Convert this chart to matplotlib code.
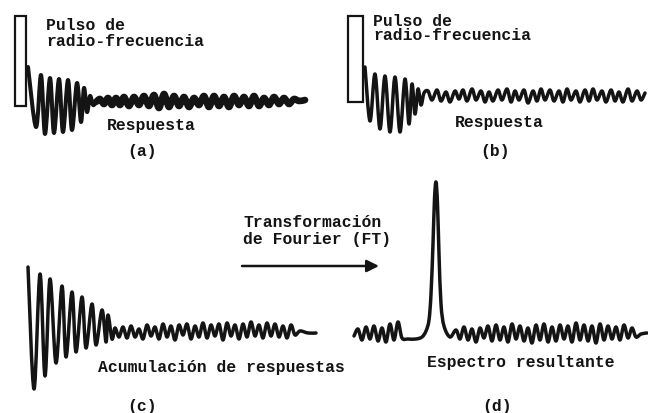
import numpy as np
import matplotlib
matplotlib.use('Agg')
import matplotlib.pyplot as plt
from matplotlib.patches import Rectangle, PathPatch
from matplotlib.path import Path
from matplotlib.transforms import Affine2D

# signal traces: time (px from panel origin), amplitude (px, up = +)
# (a) single response
a_ring_t = [8, 16, 21, 25, 30, 34, 39, 43, 48, 52, 57, 61, 64, 67, 70, 73]
a_ring_y = [35, -25, 27, -32, 24, -31, 23, -30, 22, -28, 19, -20, 14, -10, 6, -3]
a_noise_t = [76, 80, 84, 88, 92, 96, 100, 104, 109, 114, 119, 124, 129, 134, 139,
             144, 149, 154, 159, 164, 169, 174, 179, 184, 189, 194, 199, 204, 209,
             214, 219, 224, 229, 234, 239, 244, 249, 254, 259, 264, 269, 274, 279, 285]
a_noise_y = [0, 3, -2, 4, -3, 4, -3, 5, -4, 5, -3, 6, -4, 7, -6, 8, -5, 6, -4, 5,
             -5, 4, -3, 6, -5, 6, -4, 5, -5, 6, -3, 5, -4, 6, -4, 4, -3, 5, -2, 4,
             -2, 3, 1, 2]

# (b) another response
b_ring_t = [5, 10, 15, 20, 25, 30, 35, 40, 45, 49, 52, 55, 58, 61, 64]
b_ring_y = [29, -25, 22, -33, 20, -36, 19, -36, 17, -28, 12, -18, 7, -9, 3]
b_tail_t = [68, 72, 77, 81, 86, 90, 95, 99, 103, 107, 112, 116, 121, 125, 129, 133,
            138, 142, 147, 151, 155, 159, 164, 168, 173, 177, 181, 185, 190, 194,
            199, 203, 207, 211, 216, 220, 225, 229, 233, 237, 242, 246, 251, 255,
            259, 263, 268, 272, 277, 281, 285]
b_tail_y = [5, -4, 6, -5, 4, -6, 5, -3, 6, -5, 7, -4, 5, -6, 4, -5, 6, -4, 7, -6,
            5, -4, 6, -7, 5, -5, 7, -4, 6, -5, 5, -6, 7, -4, 5, -6, 6, -5, 7, -4,
            5, -6, 6, -5, 4, -6, 7, -5, 5, -4, 3]

# (c) accumulated responses
c_ring_t = [8, 14, 20, 25, 30, 36, 42, 46, 52, 56, 62, 66, 72, 76, 82, 86, 88, 92]
c_ring_y = [64, -58, 57, -45, 52, -32, 45, -26, 39, -21, 34, -17, 27, -14, 21, -11, 16, -8]
c_tail_t = [95, 99, 103, 107, 111, 115, 119, 123, 127, 131, 135, 139, 143, 147, 151,
            155, 159, 163, 167, 171, 175, 179, 183, 187, 191, 195, 199, 203, 207,
            211, 215, 219, 223, 227, 231, 235, 239, 243, 247, 251, 255, 259, 263,
            267, 271, 275, 280, 288, 296]
c_tail_y = [3, -6, 4, -7, 5, -6, 2, -8, 6, -5, 4, -8, 7, -6, 5, -9, 6, -4, 7, -8,
            5, -6, 8, -7, 6, -5, 7, -9, 8, -5, 6, -8, 7, -6, 9, -5, 6, -7, 8, -5,
            7, -6, 5, -7, 6, -4, 0, -2, -2]

# (d) resulting spectrum
d_left_t = [4, 8, 12, 16, 20, 24, 28, 32, 36, 40, 44, 48, 52, 58, 66, 72]
d_left_y = [-2, 5, -6, 7, -5, 8, -7, 6, -8, 10, -6, 12, -4, -5, -5, -3]
d_peak_t = [76, 79, 81, 83, 84.5, 86, 87.5, 89, 91, 94, 100]
d_peak_y = [3, 14, 40, 90, 135, 152, 130, 80, 30, 8, -3]
d_right_t = [106, 110, 114, 118, 122, 126, 130, 134, 138, 142, 146, 150, 154, 158,
             162, 166, 170, 174, 178, 182, 186, 190, 194, 198, 202, 206, 210, 214,
             218, 222, 226, 230, 234, 238, 242, 246, 250, 254, 258, 262, 266, 270,
             274, 278, 282, 286, 291, 297]
d_right_y = [4, -5, 7, -6, 5, -8, 6, -4, 8, -7, 9, -6, 7, -8, 10, -5, 8, -7, 6, -9,
             9, -6, 10, -8, 7, -7, 9, -5, 8, -8, 11, -6, 9, -7, 8, -9, 10, -6, 8, -5,
             7, -6, 9, -4, 6, -3, 0, 1]

INK = '#141414'
FONT = dict(family='Liberation Mono', fontweight='bold', fontsize=11.8, color=INK)

fig = plt.figure(figsize=(6.48, 4.14), dpi=100)
ax = fig.add_axes([0, 0, 1, 1])
ax.set_xlim(0, 648)
ax.set_ylim(414, 0)
ax.axis('off')


def panel(x0, y0):
    # panel origin on the page, amplitude pointing up
    return Affine2D().scale(1, -1).translate(x0, y0) + ax.transData


def trace(tr, t, y, lw=2.2):
    # smooth curve through the read points (Catmull-Rom as cubic Bezier segments)
    p = np.column_stack([t, y]).astype(float)
    q = np.vstack([p[:1], p, p[-1:]])
    verts = [p[0]]
    codes = [Path.MOVETO]
    for i in range(1, len(q) - 2):
        c1 = q[i] + (q[i + 1] - q[i - 1]) / 6
        c2 = q[i + 1] - (q[i + 2] - q[i]) / 6
        verts += [c1, c2, q[i + 1]]
        codes += [Path.CURVE4] * 3
    ax.add_patch(PathPatch(Path(verts, codes), fill=False, ec=INK, lw=lw,
                           transform=tr, joinstyle='round', capstyle='round'))


# (a)
tr_a = panel(20, 103)
trace(tr_a, a_ring_t + a_noise_t[:1], a_ring_y + a_noise_y[:1], lw=2.9)
trace(tr_a, a_noise_t, a_noise_y, lw=4.8)
ax.add_patch(Rectangle((15, 17), 11, 90, fill=False, ec=INK, lw=1.6))
ax.text(46, 25, 'Pulso de', va='center', **FONT)
ax.text(46, 41, 'radio-frecuencia', va='center', **FONT)
ax.text(107, 126, 'Respuesta', va='center', **FONT)
ax.text(142, 152, '(a)', va='center', ha='center', **FONT)

# (b)
tr_b = panel(360, 97)
trace(tr_b, b_ring_t + b_tail_t, b_ring_y + b_tail_y, lw=2.5)
ax.add_patch(Rectangle((348, 17), 15, 86, fill=False, ec=INK, lw=1.6))
ax.text(373, 21, 'Pulso de', va='center', **FONT)
ax.text(373, 36, 'radio-frecuencia', va='center', **FONT)
ax.text(455, 123, 'Respuesta', va='center', **FONT)
ax.text(495, 152, '(b)', va='center', ha='center', **FONT)

# (c)
tr_c = panel(20, 332)
trace(tr_c, c_ring_t + c_tail_t, c_ring_y + c_tail_y, lw=2.5)
ax.text(98, 368, 'Acumulación de respuestas', va='center', **FONT)
ax.text(142, 407, '(c)', va='center', ha='center', **FONT)

# FT arrow
ax.text(243, 223, 'Transformación', va='center', **FONT)
ax.text(243, 240, 'de Fourier (FT)', va='center', **FONT)
ax.annotate('', xy=(379, 267), xytext=(242, 267),
            arrowprops=dict(arrowstyle='-|>', color=INK, lw=1.8,
                            mutation_scale=18, shrinkA=0, shrinkB=0))

# (d)
tr_d = panel(350, 335)
trace(tr_d, d_left_t + d_peak_t + d_right_t, d_left_y + d_peak_y + d_right_y, lw=2.5)
ax.text(427, 363, 'Espectro resultante', va='center', **FONT)
ax.text(497, 407, '(d)', va='center', ha='center', **FONT)

plt.savefig('out.png', dpi=100, facecolor='white')
